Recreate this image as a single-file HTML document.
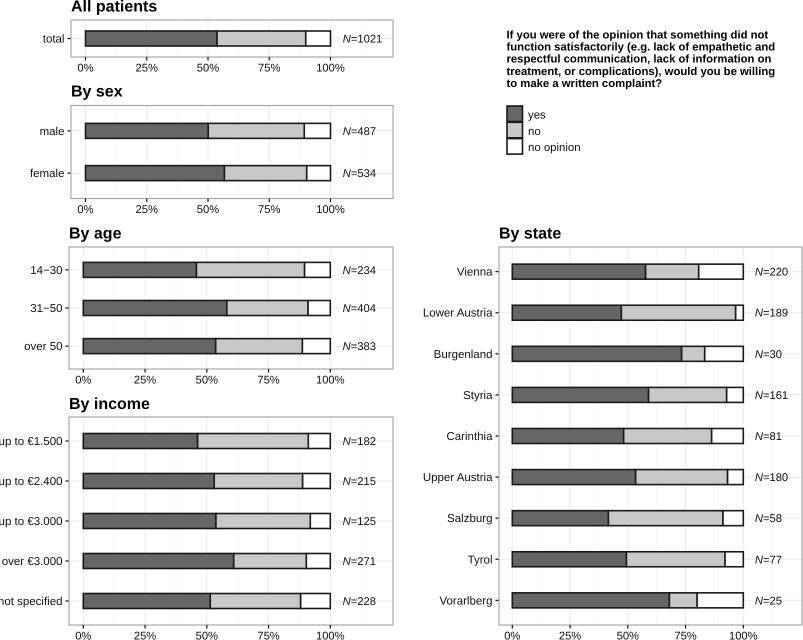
<!DOCTYPE html>
<html lang="en">
<head>
<meta charset="utf-8">
<title>Willingness to make a written complaint</title>
<style>
html,body{margin:0;padding:0;background:#fff;}
#chart{display:block;position:absolute;left:0;top:0;font-family:"Liberation Sans",sans-serif;text-rendering:geometricPrecision;}
</style>
</head>
<body>
<svg id="chart" width="803" height="640" viewBox="0 0 803 640" xmlns="http://www.w3.org/2000/svg"></svg>
<script>
// Category labels
const allLabels = ["total"];
const sexLabels = ["male", "female"];
const ageLabels = ["14\u221230", "31\u221250", "over 50"];
const incomeLabels = ["up to \u20AC1.500", "up to \u20AC2.400", "up to \u20AC3.000", "over \u20AC3.000", "not specified"];
const stateLabels = ["Vienna", "Lower Austria", "Burgenland", "Styria", "Carinthia", "Upper Austria", "Salzburg", "Tyrol", "Vorarlberg"];

// Share answering "yes" (%)
const allYes = [53.7];
const sexYes = [50.1, 56.7];
const ageYes = [45.8, 58.1, 53.6];
const incomeYes = [46.3, 53.0, 53.7, 60.9, 51.4];
const stateYes = [57.7, 47.2, 73.3, 59.0, 48.2, 53.4, 41.6, 49.4, 68.0];

// Share answering "no" (%)
const allNo = [36.2];
const sexNo = [39.2, 33.6];
const ageNo = [43.8, 32.9, 35.1];
const incomeNo = [44.8, 35.8, 38.2, 29.4, 36.6];
const stateNo = [23.0, 49.5, 10.0, 33.8, 38.1, 39.8, 49.6, 42.7, 12.0];

// Share answering "no opinion" (%)
const allOpinion = [10.1];
const sexOpinion = [10.7, 9.7];
const ageOpinion = [10.4, 9.0, 11.3];
const incomeOpinion = [8.9, 11.2, 8.1, 9.7, 12.0];
const stateOpinion = [19.3, 3.3, 16.7, 7.2, 13.7, 6.8, 8.8, 7.9, 20.0];

// Respondents per row
const allN = [1021];
const sexN = [487, 534];
const ageN = [234, 404, 383];
const incomeN = [182, 215, 125, 271, 228];
const stateN = [220, 189, 30, 161, 81, 180, 58, 77, 25];

// Axis and legend text
const xTicks = [0, 25, 50, 75, 100];
const xMinorTicks = [12.5, 37.5, 62.5, 87.5, 112.5];
const legendLabels = ["yes", "no", "no opinion"];
const questionLines = [
  "If you were of the opinion that something did not",
  "function satisfactorily (e.g. lack of empathetic and",
  "respectful communication, lack of information on",
  "treatment, or complications), would you be willing",
  "to make a written complaint?"
];

const NS = "http://www.w3.org/2000/svg";
const svg = document.getElementById("chart");
const FILLS = ["#666666", "#c8c8c8", "#ffffff"];
const STROKE = "#1a1a1a";
const TEXT = "#111111";

function make(parent, tag, attrs, text) {
  const el = document.createElementNS(NS, tag);
  for (const k in attrs) el.setAttribute(k, attrs[k]);
  if (text !== undefined) el.textContent = text;
  parent.appendChild(el);
  return el;
}

function slug(s) {
  return String(s).toLowerCase().replace(/[^a-z0-9]+/g, "-").replace(/^-|-$/g, "");
}

function drawPanel(p) {
  const group = make(svg, "g", {});
  
  

  const width = p.right - p.left;
  const height = p.bottom - p.top;
  const xScale = v => p.x0 + (v / 100) * (p.x100 - p.x0);
  const n = p.labels.length;
  const step = height / (n - 1 + 1.2);
  const yScale = i => p.top + step * (0.6 + i);
  const barH = step * 0.9 > 15 ? 15 : 14;

  const title = make(group, "text", {x: p.titleX, y: p.titleY, "font-size": 16, "font-weight": "bold", fill: "#000"}, p.title);
  
  

  const bg = make(group, "rect", {x: p.left, y: p.top, width: width, height: height, fill: "#fff"});
  
  

  xMinorTicks.forEach(v => {
    const x = xScale(v);
    if (x > p.right) return;
    const g = make(group, "line", {x1: x, x2: x, y1: p.top, y2: p.bottom, stroke: "#f3f3f3", "stroke-width": 0.7});
    
    
  });
  xTicks.forEach(v => {
    const x = xScale(v);
    const g = make(group, "line", {x1: x, x2: x, y1: p.top, y2: p.bottom, stroke: "#ebebeb", "stroke-width": 1});
    
    
  });
  p.labels.forEach((lab, i) => {
    const y = yScale(i);
    const g = make(group, "line", {x1: p.left, x2: p.right, y1: y, y2: y, stroke: "#ebebeb", "stroke-width": 1});
    
    
  });

  p.labels.forEach((lab, i) => {
    const y = yScale(i);
    const name = slug(lab);
    const vals = [p.yes[i], p.no[i], p.opinion[i]];
    const segNames = ["yes", "no", "no-opinion"];
    let cum = 0;
    vals.forEach((v, s) => {
      const xa = xScale(cum);
      const xb = xScale(cum + v);
      const r = make(group, "rect", {x: xa, y: y - barH / 2, width: xb - xa, height: barH, fill: FILLS[s], stroke: STROKE, "stroke-width": 1.6});
      
      
      cum += v;
    });

    const tick = make(group, "line", {x1: p.left - 3.5, x2: p.left, y1: y, y2: y, stroke: "#111", "stroke-width": 1.2});
    
    

    const t = make(group, "text", {x: p.left - 6.5, y: y + 4, "font-size": 11.5, "text-anchor": "end", fill: TEXT}, lab);
    
    

    const nt = make(group, "text", {x: xScale(105), y: y + 4, "font-size": 11.2, fill: TEXT});
    
    
    make(nt, "tspan", {"font-style": "italic"}, "N");
    make(nt, "tspan", {}, "=" + p.counts[i]);
  });

  const frame = make(group, "rect", {x: p.left, y: p.top, width: width, height: height, fill: "none", stroke: "#a8a8a8", "stroke-width": 1.2});
  
  

  xTicks.forEach(v => {
    const x = xScale(v);
    const tk = make(group, "line", {x1: x, x2: x, y1: p.bottom, y2: p.bottom + 3.5, stroke: "#111", "stroke-width": 1.2});
    
    
    const t = make(group, "text", {x: x, y: p.bottom + 14.5, "font-size": 11.2, "text-anchor": "middle", fill: TEXT}, v + "%");
    
    
  });
}

drawPanel({key: "all-patients", title: "All patients", titleX: 71, titleY: 11.5, left: 71, right: 393, top: 20, bottom: 57, x0: 85.5, x100: 330.5,
  labels: allLabels, yes: allYes, no: allNo, opinion: allOpinion, counts: allN});
drawPanel({key: "by-sex", title: "By sex", titleX: 71, titleY: 96.5, left: 71, right: 393, top: 105.5, bottom: 198.5, x0: 85.5, x100: 330.5,
  labels: sexLabels, yes: sexYes, no: sexNo, opinion: sexOpinion, counts: sexN});
drawPanel({key: "by-age", title: "By age", titleX: 69, titleY: 238.5, left: 69, right: 393, top: 247, bottom: 369, x0: 83.3, x100: 330.3,
  labels: ageLabels, yes: ageYes, no: ageNo, opinion: ageOpinion, counts: ageN});
drawPanel({key: "by-income", title: "By income", titleX: 69, titleY: 409, left: 69, right: 393, top: 417, bottom: 625, x0: 83.3, x100: 330.3,
  labels: incomeLabels, yes: incomeYes, no: incomeNo, opinion: incomeOpinion, counts: incomeN});
drawPanel({key: "by-state", title: "By state", titleX: 499, titleY: 238.5, left: 499, right: 802, top: 247, bottom: 625, x0: 512.3, x100: 743.3,
  labels: stateLabels, yes: stateYes, no: stateNo, opinion: stateOpinion, counts: stateN});

const legend = make(svg, "g", {});



questionLines.forEach((line, i) => {
  const t = make(legend, "text", {x: 506.5, y: 38.3 + i * 12.2, "font-size": 11.3, "font-weight": "bold", fill: "#000"}, line);
  
  
});

legendLabels.forEach((lab, i) => {
  const key = make(legend, "rect", {x: 507, y: 106 + i * 16.3, width: 15.5, height: 15.5, fill: FILLS[i], stroke: STROKE, "stroke-width": 1.6});
  
  
  const t = make(legend, "text", {x: 528, y: 118.5 + i * 16.3, "font-size": 11.4, fill: TEXT}, lab);
  
  
});
</script>
</body>
</html>
